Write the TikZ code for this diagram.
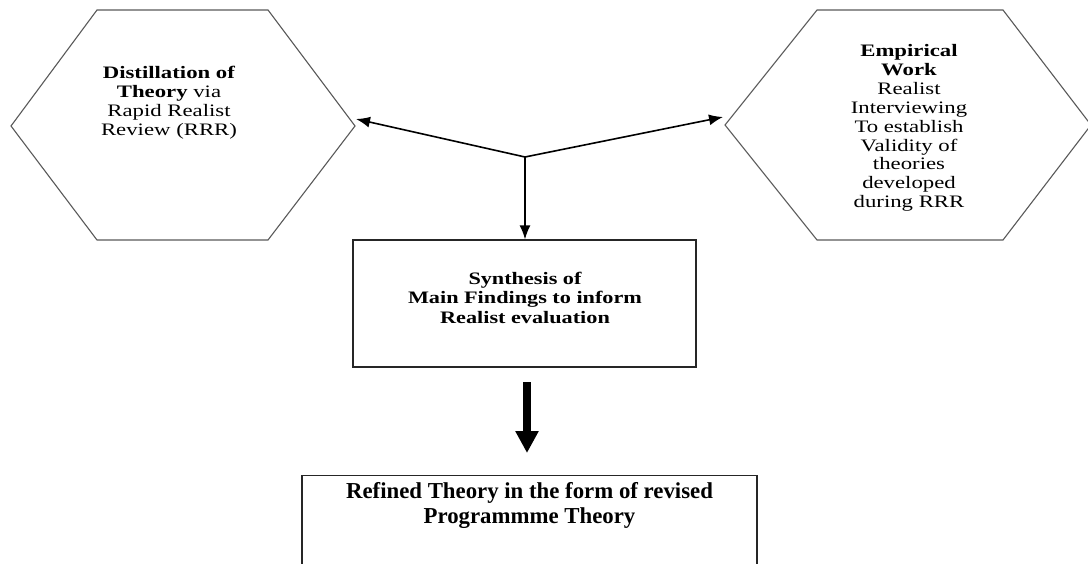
\documentclass[tikz,border=0pt]{standalone}
\usepackage{fontspec}
\setmainfont{Liberation Serif}
\usetikzlibrary{arrows.meta}
\tikzset{
  hexline/.style={draw=black!65, line width=1.1pt},
  boxline/.style={draw=black!85, line width=1.2pt},
  conn/.style={draw=black, line width=1.6pt, -{Latex[length=14pt,width=11pt]}},
  bigarrow/.style={draw=black, line width=8pt, -{Triangle[length=22pt,width=22pt]}},
  hextext/.style={align=center, xscale=1.3, font=\fontsize{17.5}{18.9}\selectfont},
  boxtext/.style={align=center, xscale=1.27, font=\bfseries\fontsize{17.5}{19.5}\selectfont},
  reftext/.style={align=center, font=\bfseries\fontsize{22.8}{25}\selectfont}
}
\begin{document}
\begin{tikzpicture}[x=1pt,y=-1pt]
\useasboundingbox (0,0) rectangle (1088,564);
% left hexagon
\coordinate (L1) at (97,10);
\coordinate (L2) at (268,10);
\coordinate (L3) at (355,126);
\coordinate (L4) at (268,240);
\coordinate (L5) at (97,240);
\coordinate (L6) at (11,126);
\draw[hexline] (L1) -- (L2) -- (L3) -- (L4) -- (L5) -- (L6) -- cycle;
\node[hextext] (ltext) at (169,102.5) {\textbf{Distillation of}\\\textbf{Theory} via\\Rapid Realist\\Review (RRR)};
% right hexagon
\coordinate (R1) at (817,10);
\coordinate (R2) at (1003,10);
\coordinate (R3) at (1091,125);
\coordinate (R4) at (1003,240);
\coordinate (R5) at (817,240);
\coordinate (R6) at (725,125);
\draw[hexline] (R1) -- (R2) -- (R3) -- (R4) -- (R5) -- (R6) -- cycle;
\node[hextext] (rtext) at (909,128) {\textbf{Empirical}\\\textbf{Work}\\Realist\\Interviewing\\To establish\\Validity of\\theories\\developed\\during RRR};
% synthesis box
\node[boxline, minimum width=343pt, minimum height=127pt, inner sep=0pt] (syn) at (524.5,303.5) {};
\node[boxtext] (syntext) at (525,297.5) {Synthesis of\\Main Findings to inform\\Realist evaluation};
% refined box
\node[boxline, minimum width=455pt, minimum height=110pt, inner sep=0pt, anchor=north] (ref) at (529.5,475) {};
\node[reftext] (reftext) at (529.5,505.5) {Refined Theory in the form of revised\\Programmme Theory};
% connectors
\coordinate (J) at (525,157);
\coordinate (LT) at (356,119);
\coordinate (RT) at (723,117);
\draw[conn] (J) -- (LT);
\draw[conn] (J) -- (RT);
\draw[conn] (J) -- (syn.north -| J);
\coordinate (BA) at (527,382);
\coordinate (BB) at (527,453);
\draw[bigarrow] (BA) -- (BB);
\end{tikzpicture}
\end{document}
